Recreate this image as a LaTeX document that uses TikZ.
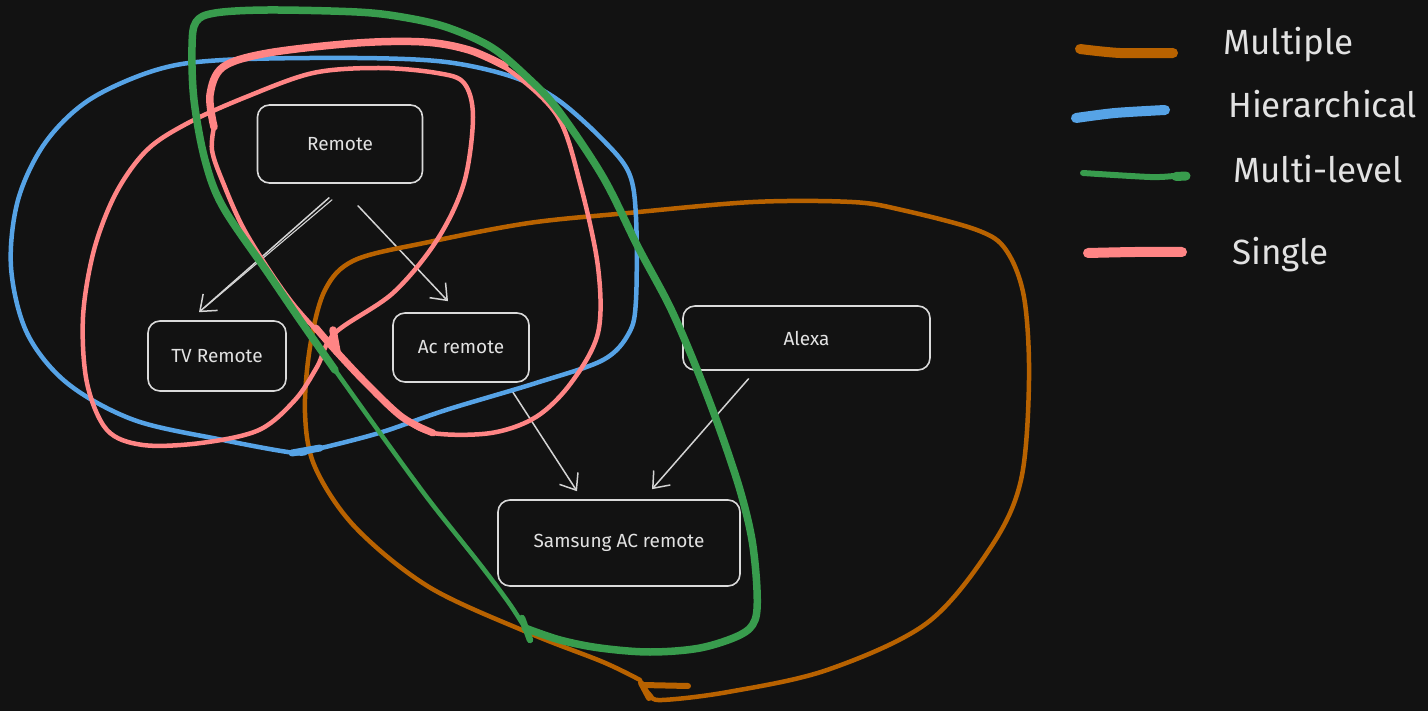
\documentclass[tikz,border=0pt]{standalone}
\usepackage{fontspec}
\setmainfont{Fira Sans}
\usetikzlibrary{arrows.meta}
\definecolor{bg}{HTML}{121212}
\definecolor{nodeline}{HTML}{DADADA}
\definecolor{txt}{HTML}{E2E2E2}
\definecolor{arrowc}{HTML}{D4D4D4}
\definecolor{orangec}{HTML}{B86200}
\definecolor{bluec}{HTML}{56A3E6}
\definecolor{greenc}{HTML}{389C4D}
\definecolor{pinkc}{HTML}{FF8585}
\tikzset{
  box/.style={draw=nodeline, line width=1.6pt, rounded corners=12pt, text=txt,
    font=\fontsize{19}{22}\selectfont, inner sep=0pt},
  link/.style={draw=arrowc, line width=1.5pt, line cap=round,
    -{Straight Barb[length=14pt,width=22pt,line width=1.5pt]}},
  linkplain/.style={draw=arrowc, line width=1.1pt, line cap=round},
  stroke/.style={line cap=round, line join=round},
  legtext/.style={text=txt, font=\fontsize{35}{40}\selectfont, anchor=base west, inner sep=0pt}
}
\begin{document}
\begin{tikzpicture}[x=1pt,y=-1pt]
\fill[bg] (0,0) rectangle (1428,711);
\useasboundingbox (0,0) rectangle (1428,711);

% nodes
\node[box, minimum width=165pt, minimum height=78pt] (remote) at (340,144) {Remote};
\node[box, minimum width=138pt, minimum height=70pt] (tv) at (217,356) {TV Remote};
\node[box, minimum width=136pt, minimum height=69pt] (ac) at (461,347.5) {Ac remote};
\node[box, minimum width=247pt, minimum height=64pt] (alexa) at (806.5,338) {Alexa};
\node[box, minimum width=242pt, minimum height=86pt] (samsung) at (619,543) {Samsung AC remote};

% connectors
\draw[link] ([shift={(-11,14)}]remote.south) -- ([shift={(-18,-8)}]tv.north);
\draw[linkplain] ([shift={(-8,16)}]remote.south) -- ([shift={(-12,-13)}]tv.north);
\draw[link] ([shift={(18,22)}]remote.south) -- ([shift={(-13,-11)}]ac.north);
\draw[link] ([shift={(51,8)}]ac.south) -- ([shift={(-42,-8)}]samsung.north);
\draw[link] ([shift={(-58,8)}]alexa.south) -- ([shift={(33,-10)}]samsung.north);

% Multiple (orange)
\draw[stroke, draw=orangec, line width=4.5pt] plot[smooth, tension=0.55] coordinates {
 (640,680) (603,662) (529,633) (429,587) (355,527) (315,467) (305,413) (310,347)
 (325,290) (355,260) (429,242) (529,223) (628,213) (753,202) (852,202) (902,210)
 (977,230) (1006,250) (1024,297) (1029,380) (1021,480) (991,547) (927,623) (827,670)
 (728,692) (662,700) (650,695) (643,685)};
\draw[stroke, draw=orangec, line width=6pt] (643,685) -- (688,686);
\draw[stroke, draw=orangec, line width=6pt] (641,683) -- (649,698);

% Hierarchical (blue)
\draw[stroke, draw=bluec, line width=4.5pt] plot[smooth cycle, tension=0.55] coordinates {
 (295,453) (223,440) (134,420) (67,383) (27,333) (11,267) (18,200) (45,143) (89,100)
 (156,70) (223,60) (357,58) (446,62) (513,77) (558,100) (603,140) (629,173) (636,217)
 (636,300) (629,333) (603,360) (536,383) (446,410) (379,433) (313,450)};
\draw[stroke, draw=bluec, line width=7pt] (292,453) -- (320,448);

% Single (pink) loop around Remote and TV Remote
\draw[stroke, draw=pinkc, line width=4.5pt] plot[smooth cycle, tension=0.55] coordinates {
 (335,333) (393,293) (437,240) (464,183) (473,117) (464,83) (437,73) (379,68) (313,73)
 (246,97) (188,123) (147,150) (116,193) (94,250) (83,317) (87,383) (107,430) (143,445)
 (201,443) (259,430) (295,400) (317,367)};
% Single (pink) loop around Remote and Ac remote
\draw[stroke, draw=pinkc, line width=4.5pt] plot[smooth, tension=0.55] coordinates {
 (214,127) (210,95) (223,67) (268,53) (357,43) (424,42) (469,50) (513,73) (558,117)
 (580,183) (598,267) (598,333) (571,383) (536,417) (491,433) (433,433) (402,417)
 (366,383) (335,350) (290,300) (246,233) (222,180) (212,150) (214,127)};
\draw[stroke, draw=pinkc, line width=7.5pt] plot[smooth, tension=0.55] coordinates {
 (214,127) (210,95) (223,67) (268,53) (357,43) (424,42) (469,50) (505,66)};
\draw[stroke, draw=pinkc, line width=7pt] plot[smooth, tension=0.55] coordinates {
 (433,433) (402,417) (366,383) (335,350) (316,328)};
\draw[stroke, draw=pinkc, line width=7.5pt] (333,330) -- (337,352);

% Multi-level (green)
\draw[stroke, draw=greenc, line width=7.5pt] plot[smooth, tension=0.55] coordinates {
 (335,370) (300,320) (268,273) (223,207) (205,160) (194,100) (192,47) (196,22) (215,13)
 (268,10) (357,12) (402,17) (446,27) (491,47) (527,77) (558,110) (603,177) (638,247)
 (670,307) (696,367) (720,430) (740,490) (752,540) (757,590) (755,620) (740,635)
 (700,648) (650,652) (600,648) (560,640) (525,628)};
\draw[stroke, draw=greenc, line width=4.5pt] plot[smooth, tension=0.55] coordinates {
 (335,370) (380,433) (429,500) (479,563) (509,603) (525,628)};
\draw[stroke, draw=greenc, line width=6.5pt] (522,618) -- (530,640);

% legend
\coordinate (lo1) at (1080,49); \coordinate (lo2) at (1173,53);
\draw[stroke, draw=orangec, line width=10pt] plot[smooth] coordinates {(lo1) (1120,53) (lo2)};
\node[legtext] (lmult) at (1223,55) {Multiple};
\coordinate (lb1) at (1076,118); \coordinate (lb2) at (1165,110);
\draw[stroke, draw=bluec, line width=10pt] plot[smooth] coordinates {(lb1) (1115,113) (lb2)};
\node[legtext] (lhier) at (1228,118) {Hierarchical};
\coordinate (lg1) at (1083,173); \coordinate (lg2) at (1186,176);
\draw[stroke, draw=greenc, line width=6pt] plot[smooth] coordinates {(lg1) (1150,177) (1175,176) (lg2)};
\draw[stroke, draw=greenc, line width=9pt] (1176,176.5) -- (lg2);
\node[legtext] (lmulti) at (1233,183) {Multi-level};
\coordinate (lp1) at (1088,253); \coordinate (lp2) at (1182,252);
\draw[stroke, draw=pinkc, line width=10pt] plot[smooth] coordinates {(lp1) (1135,252) (lp2)};
\node[legtext] (lsingle) at (1232,265) {Single};
\end{tikzpicture}
\end{document}
